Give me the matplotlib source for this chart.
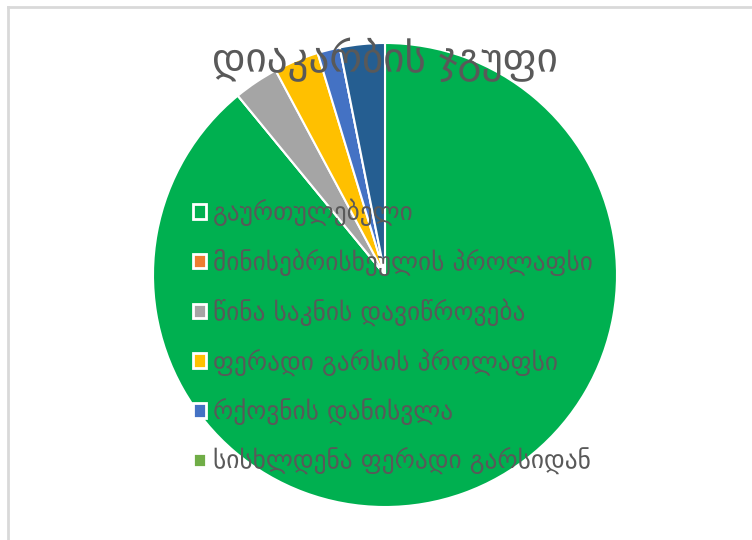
import matplotlib
matplotlib.use("Agg")
import matplotlib.pyplot as plt
from matplotlib.lines import Line2D

plt.rcParams['font.family'] = ['DejaVu Sans']

title = "დიაკარბის ჯგუფი"
categories = [
    "გაურთულებელი",
    "მინისებრისხეულის პროლაფსი",
    "წინა საკნის დავიწროვება",
    "ფერადი გარსის პროლაფსი",
    "რქოვნის დანისვლა",
    "სისხლდენა ფერადი გარსიდან",
    "სხვა",
]
values = [57, 0, 2, 2, 1, 0, 2]
colors = ["#00B050", "#ED7D31", "#A5A5A5", "#FFC000", "#4472C4", "#70AD47", "#255E91"]
legend_count = 6

W, H = 752, 540
fig = plt.figure(figsize=(W / 100, H / 100), dpi=100)
fig.patch.set_facecolor("white")

# chart border (left and top visible)
fig.add_artist(Line2D([8 / W, 8 / W], [0, 1 - 7 / H], transform=fig.transFigure,
                      color="#d9d9d9", lw=2))
fig.add_artist(Line2D([8 / W, 1], [1 - 7 / H, 1 - 7 / H], transform=fig.transFigure,
                      color="#d9d9d9", lw=2))

cx, cy, r = 385, 275, 232
ax = fig.add_axes([(cx - r) / W, (H - cy - r) / H, 2 * r / W, 2 * r / H])
wedges, _ = ax.pie(values, colors=colors, startangle=90, counterclock=False,
                   radius=1, wedgeprops=dict(edgecolor="white", linewidth=1.5))
ax.set_xlim(-1, 1)
ax.set_ylim(-1, 1)
ax.set_aspect("equal")
ax.axis("off")

fig.text(cx / W, 1 - 60 / H, title, ha="center", va="center",
         fontsize=29.5, color="#595959")

handles = []
for i in range(legend_count):
    handles.append(plt.Rectangle((0, 0), 1, 1, facecolor=colors[i],
                                 edgecolor="white", linewidth=2))
leg = fig.legend(handles, categories[:legend_count], loc="upper left",
                 bbox_to_anchor=(193 / W, 1 - 199 / H), frameon=False,
                 fontsize=18.3, labelcolor="#595959", handlelength=0.5,
                 handleheight=0.5, handletextpad=0.3, labelspacing=0.88,
                 borderpad=0, borderaxespad=0)

fig.savefig("out.png", dpi=100, facecolor="white")
